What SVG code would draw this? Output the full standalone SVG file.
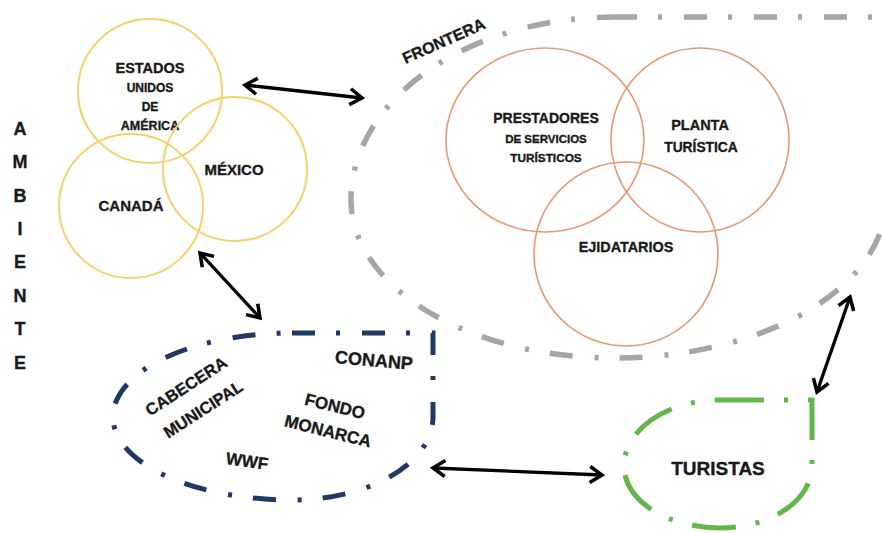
<svg xmlns="http://www.w3.org/2000/svg" width="882" height="533" viewBox="0 0 882 533">
<defs>
<style>
text{font-family:"Liberation Sans",Arial,sans-serif;font-weight:bold;fill:#1a1a1a;stroke:#1a1a1a;stroke-width:0.35;text-anchor:middle}
.yc{fill:none;stroke:#f6d06b;stroke-width:2}
.oc{fill:none;stroke:#e59a74;stroke-width:1.6}
.gray{fill:none;stroke:#a6a6a6;stroke-width:5.5;stroke-dasharray:23 21 4 22}
.blue{fill:none;stroke:#1f3864;stroke-width:5;stroke-dasharray:23 21 4 22}
.green{fill:none;stroke:#62b64a;stroke-width:5;stroke-dasharray:44 20 4 20}
.arr{fill:none;stroke:#000;stroke-width:3.3;marker-start:url(#ah);marker-end:url(#ah)}
</style>
<marker id="ah" viewBox="-16 -11 20 22" refX="0" refY="0" markerWidth="20" markerHeight="22" markerUnits="userSpaceOnUse" orient="auto-start-reverse" overflow="visible">
<path d="M-12,-8 L0,0 L-12,8" fill="none" stroke="#000" stroke-width="3.5"/>
</marker>
</defs>
<rect width="882" height="533" fill="#fff"/>

<g id="ambiente">
<text x="20" y="134.5" font-size="18">A</text>
<text x="20" y="168" font-size="18">M</text>
<text x="20" y="201.5" font-size="18">B</text>
<text x="20" y="235" font-size="18">I</text>
<text x="20" y="268" font-size="18">E</text>
<text x="20" y="301.5" font-size="18">N</text>
<text x="20" y="335" font-size="18">T</text>
<text x="20" y="368.5" font-size="18">E</text>
</g>

<g id="estados-unidos">
<circle class="yc" cx="150" cy="91" r="72"/>
<text x="150" y="73" font-size="14.5">ESTADOS</text>
<text x="150" y="92" font-size="12">UNIDOS</text>
<text x="150" y="111" font-size="12">DE</text>
<text x="150" y="129.5" font-size="12.5">AMÉRICA</text>
</g>
<g id="mexico">
<circle class="yc" cx="235" cy="169" r="72"/>
<text x="234" y="175" font-size="15">MÉXICO</text>
</g>
<g id="canada">
<circle class="yc" cx="131" cy="206" r="72"/>
<text x="131" y="210.5" font-size="15">CANADÁ</text>
</g>

<g id="frontera">
<path class="gray" d="M614,17 L886,17 L886,200 A272,158 0 0 1 614,358 A263,158 0 0 1 351,200 A263,183 0 0 1 614,17 Z"/>
<text transform="translate(446,46) rotate(-24)" font-size="16">FRONTERA</text>
</g>
<g id="prestadores">
<ellipse class="oc" cx="545" cy="140" rx="99" ry="92"/>
<text x="546" y="123" font-size="14">PRESTADORES</text>
<text x="546" y="142.5" font-size="11.5">DE SERVICIOS</text>
<text x="546" y="161.5" font-size="11.8">TURÍSTICOS</text>
</g>
<g id="planta">
<ellipse class="oc" cx="700" cy="140" rx="89" ry="92"/>
<text x="700" y="130" font-size="14.5">PLANTA</text>
<text x="701" y="152" font-size="13.8">TURÍSTICA</text>
</g>
<g id="ejidatarios">
<circle class="oc" cx="626" cy="254" r="92"/>
<text x="626" y="252" font-size="14.4">EJIDATARIOS</text>
</g>

<g id="local">
<path class="blue" d="M292,333 L433,333 L433,417 A141,83 0 0 1 292,500 A179,83 0 0 1 113,417 A179,84 0 0 1 292,333 Z"/>
<text transform="translate(374,360) rotate(5)" y="6.5" font-size="18">CONANP</text>
<text transform="translate(186,386) rotate(-33)" y="6" font-size="16.5">CABECERA</text>
<text transform="translate(203,409) rotate(-33)" y="6" font-size="16.5">MUNICIPAL</text>
<text transform="translate(335,406) rotate(14)" y="6" font-size="17">FONDO</text>
<text transform="translate(328,431) rotate(14)" y="6" font-size="17">MONARCA</text>
<text transform="translate(247,461) rotate(8)" y="6" font-size="17">WWF</text>
</g>

<g id="turistas">
<path class="green" d="M720,400 L812,400 L812,466 A92,62 0 0 1 720,528 A96,62 0 0 1 624,466 A96,66 0 0 1 720,400 Z"/>
<text x="718" y="475" font-size="19">TURISTAS</text>
</g>

<g id="connectors">
<line class="arr" x1="245" y1="85" x2="362" y2="98"/>
<line class="arr" x1="200" y1="253" x2="260" y2="318"/>
<line class="arr" x1="433" y1="468" x2="602" y2="475"/>
<line class="arr" x1="850" y1="297" x2="817" y2="392"/>
</g>
</svg>
